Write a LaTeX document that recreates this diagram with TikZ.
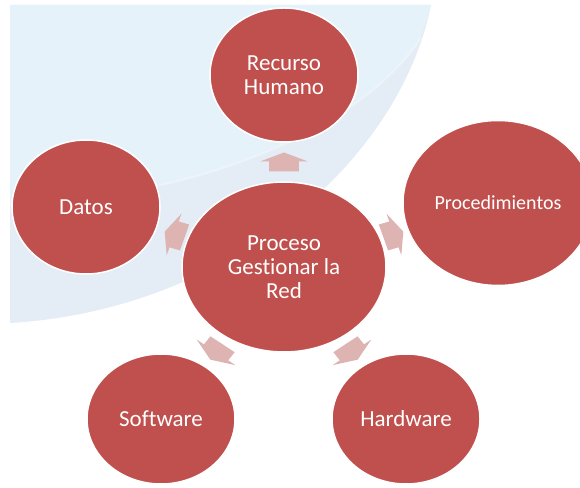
\documentclass[tikz,border=0pt]{standalone}
\usepackage{fontspec}
\setmainfont{Carlito}[Ligatures=NoCommon]
\usetikzlibrary{shapes.geometric}
\definecolor{nodered}{HTML}{C0504D}
\definecolor{arrowpink}{RGB}{222,180,179}
\definecolor{bgblue}{RGB}{228,236,245}
\definecolor{bglight}{RGB}{230,242,249}
\begin{document}
\begin{tikzpicture}[x=1pt,y=1pt,
  bubble/.style={ellipse, fill=nodered, draw=white, line width=1.5pt, text=white,
    align=center, inner sep=0pt, minimum width=148pt, minimum height=134pt,
    font=\fontsize{23}{24}\selectfont},
  blockarrow/.style={fill=arrowpink, draw=none}]
\useasboundingbox (0,0) rectangle (580,487);
% background swoosh
\fill[bgblue] (10,482) -- (431,482) .. controls (400,327) and (230,177) .. (10,164) -- cycle;
\fill[bglight] (10,482) -- (431,482) -- (421,449) .. controls (360,357) and (200,290) .. (10,282) -- cycle;
\draw[white, opacity=0.3, line width=2pt] (421,449) .. controls (360,357) and (200,290) .. (10,282);
% nodes
\node[bubble, minimum width=204pt, minimum height=170pt] (c) at (284,220) {Proceso\\Gestionar la\\Red};
\node[bubble] (rh) at (284,412) {Recurso\\Humano};
\node[bubble] (da) at (86,280) {Datos};
\node[bubble, minimum width=190pt, minimum height=165pt, font=\fontsize{20}{22}\selectfont] (pr) at (498,284) {Procedimientos};
\node[bubble, minimum height=130pt] (sw) at (161,68) {Software};
\node[bubble, minimum height=130pt] (hw) at (406,68) {Hardware};
% block arrows from the centre outwards
\foreach \a/\n in {90/up,162/left,18/right,234/bl,306/br} {
  \path (c.center) ++(\a:115 and 105) coordinate (ar\n);
  \begin{scope}[shift={(ar\n)}, xscale=1.1, rotate=\a]
    \fill[blockarrow] (-9.5,-13.6) -- (0.5,-13.6) -- (0.5,-21.8) -- (9.5,0) -- (0.5,21.8) -- (0.5,13.6) -- (-9.5,13.6) -- cycle;
  \end{scope}
}
\end{tikzpicture}
\end{document}
